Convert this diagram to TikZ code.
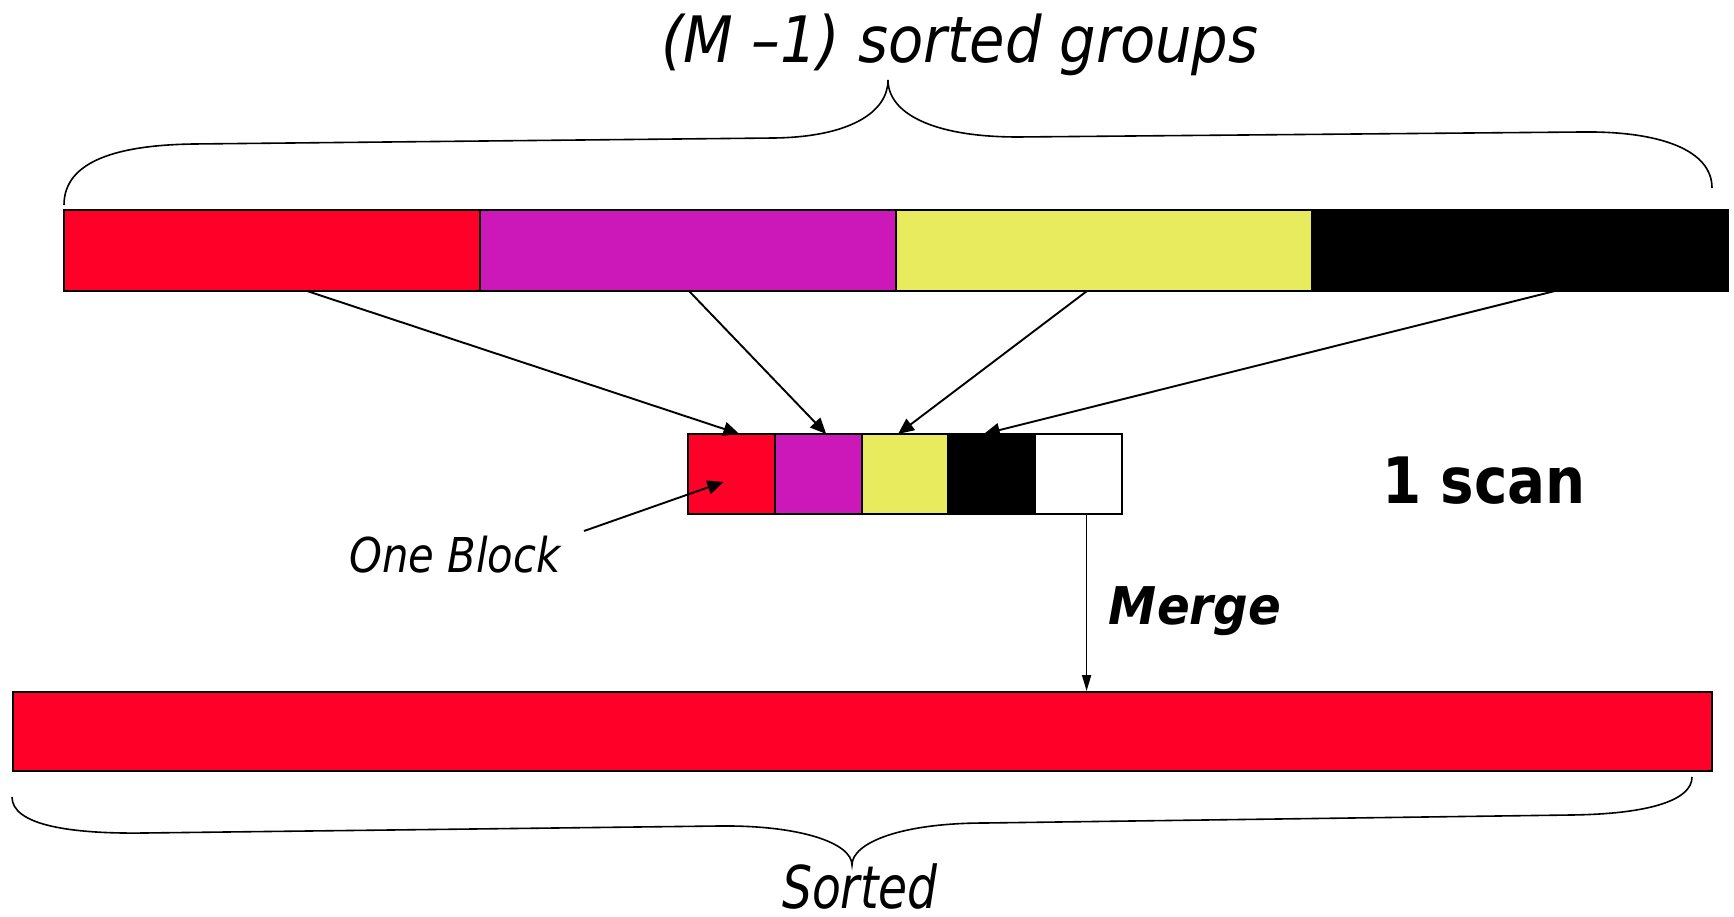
\documentclass[tikz,border=0pt]{standalone}
\usepackage{fontspec}
\usepackage{graphicx}
\setmainfont{DejaVu Sans}
\usetikzlibrary{arrows.meta}
\definecolor{cred}{RGB}{255,0,41}
\definecolor{cmag}{RGB}{204,24,185}
\definecolor{cyel}{RGB}{232,235,94}
\begin{document}
\begin{tikzpicture}[x=1pt,y=-1pt,
  seg/.style={draw=black, line width=2pt, minimum height=81pt, minimum width=416pt, inner sep=0pt, outer sep=0pt, anchor=north west},
  blk/.style={draw=black, line width=2pt, minimum height=80pt, minimum width=86.8pt, inner sep=0pt, outer sep=0pt, anchor=north west},
  arr/.style={line width=1.9pt, -{Triangle[length=16pt,width=14pt]}},
  marr/.style={line width=1.7pt, -{Triangle[length=16pt,width=9pt]}},
  brace/.style={line width=1.6pt},
  lbl/.style={inner sep=0pt, anchor=base}]
\useasboundingbox (0,0) rectangle (1734,917);
% top bar
\node[seg, fill=cred] (t1) at (64,210) {};
\node[seg, fill=cmag] (t2) at (480,210) {};
\node[seg, fill=cyel] (t3) at (896,210) {};
\node[seg, fill=black] (t4) at (1312,210) {};
% middle blocks
\node[blk, fill=cred] (m1) at (688,434) {};
\node[blk, fill=cmag] (m2) at (774.8,434) {};
\node[blk, fill=cyel] (m3) at (861.6,434) {};
\node[blk, fill=black] (m4) at (948.4,434) {};
\node[blk, fill=white] (m5) at (1035.2,434) {};
% bottom bar
\node[draw=black, line width=2pt, fill=cred, minimum width=1699pt, minimum height=79pt, inner sep=0pt, anchor=north west] (b) at (12,691) {};
% arrows
\draw[arr] ([xshift=35pt]t1.south) -- ([xshift=8pt]m1.north);
\draw[arr] ([xshift=1pt]t2.south) -- ([xshift=8pt]m2.north);
\draw[arr] ([xshift=-17pt]t3.south) -- ([xshift=-7pt]m3.north);
\draw[arr] ([xshift=35pt]t4.south) -- ([xshift=-8pt]m4.north);
\draw[marr] ([xshift=8pt]m5.south) -- ([xshift=8pt]m5.south |- b.north);
\coordinate (obtail) at (584,531);
\draw[arr] (obtail) -- ([xshift=-8pt,yshift=-8pt]m1.center);
% braces
\draw[brace] (64,205) .. controls (64,160) and (120,145) .. (194,144) -- (774,138)
  .. controls (850,137) and (888,112) .. (888,80)
  .. controls (888,112) and (930,137) .. (1018,137) -- (1582,132)
  .. controls (1660,131) and (1712,150) .. (1712,188);
\draw[brace] (12,797) .. controls (12,825) and (70,834) .. (144,833) -- (719,826)
  .. controls (800,825) and (852,843) .. (852,865)
  .. controls (852,843) and (900,823) .. (985,823) -- (1571,815)
  .. controls (1650,814) and (1692,800) .. (1692,777);
% labels
\node[lbl] (title) at (960,63) {\fontsize{64}{70}\selectfont\itshape\scalebox{0.9}[1]{(M –1) sorted groups}};
\node[lbl] (ob) at (455,572) {\fontsize{48}{52}\selectfont\itshape\scalebox{0.87}[1]{One Block}};
\node[lbl] (merge) at (1195,624) {\fontsize{52}{56}\selectfont\bfseries\itshape\scalebox{0.93}[1]{Merge}};
\node[lbl] (scan) at (1484,503) {\fontsize{64}{70}\selectfont\bfseries\scalebox{0.88}[1]{1 scan}};
\node[lbl] (sorted) at (860,908) {\fontsize{59}{64}\selectfont\itshape\scalebox{0.8}[1]{Sorted}};
\end{tikzpicture}
\end{document}
